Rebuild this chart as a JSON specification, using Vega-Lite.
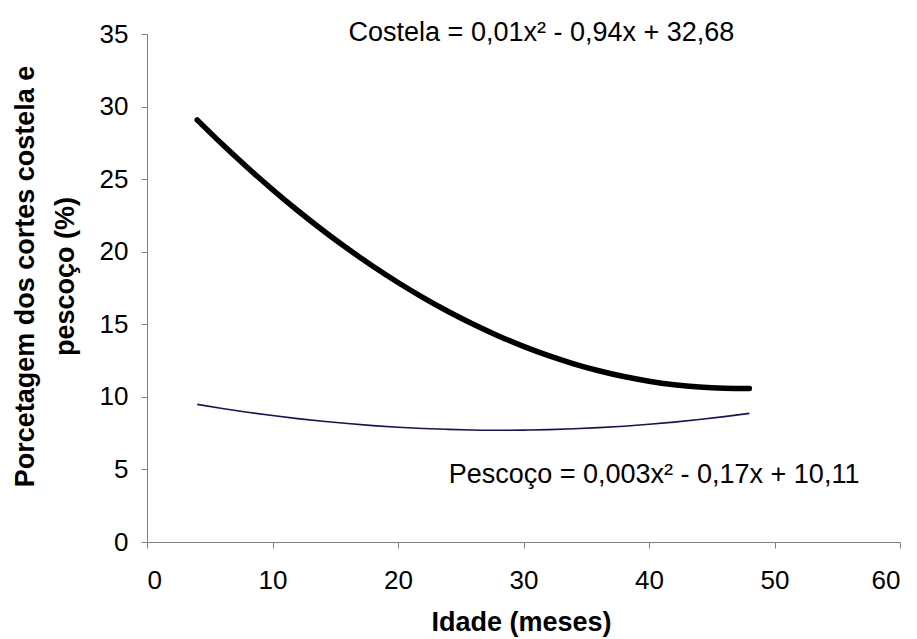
{
  "$schema": "https://vega.github.io/schema/vega-lite/v6.json",
  "width": 753,
  "height": 508,
  "autosize": "none",
  "padding": {"left": 147, "top": 34, "right": 17, "bottom": 97},
  "background": "white",
  "config": {
    "view": {"stroke": null},
    "font": "Liberation Sans",
    "axis": {
      "grid": false,
      "domainColor": "#808080",
      "tickColor": "#808080",
      "tickSize": 6,
      "labelFont": "Liberation Sans",
      "labelFontSize": 26,
      "labelColor": "black",
      "titleFont": "Liberation Sans",
      "titleFontSize": 27,
      "titleFontWeight": "bold",
      "titleColor": "black"
    }
  },
  "datasets": {
    "curves": [
      {"idade": 4, "valor": 29.08, "corte": "Costela"},
      {"idade": 6, "valor": 27.40, "corte": "Costela"},
      {"idade": 8, "valor": 25.80, "corte": "Costela"},
      {"idade": 10, "valor": 24.28, "corte": "Costela"},
      {"idade": 12, "valor": 22.84, "corte": "Costela"},
      {"idade": 14, "valor": 21.48, "corte": "Costela"},
      {"idade": 16, "valor": 20.20, "corte": "Costela"},
      {"idade": 18, "valor": 19.00, "corte": "Costela"},
      {"idade": 20, "valor": 17.88, "corte": "Costela"},
      {"idade": 22, "valor": 16.84, "corte": "Costela"},
      {"idade": 24, "valor": 15.88, "corte": "Costela"},
      {"idade": 26, "valor": 15.00, "corte": "Costela"},
      {"idade": 28, "valor": 14.20, "corte": "Costela"},
      {"idade": 30, "valor": 13.48, "corte": "Costela"},
      {"idade": 32, "valor": 12.84, "corte": "Costela"},
      {"idade": 34, "valor": 12.28, "corte": "Costela"},
      {"idade": 36, "valor": 11.80, "corte": "Costela"},
      {"idade": 38, "valor": 11.40, "corte": "Costela"},
      {"idade": 40, "valor": 11.08, "corte": "Costela"},
      {"idade": 42, "valor": 10.84, "corte": "Costela"},
      {"idade": 44, "valor": 10.68, "corte": "Costela"},
      {"idade": 46, "valor": 10.60, "corte": "Costela"},
      {"idade": 48, "valor": 10.58, "corte": "Costela"},
      {"idade": 4, "valor": 9.48, "corte": "Pescoço"},
      {"idade": 6, "valor": 9.20, "corte": "Pescoço"},
      {"idade": 8, "valor": 8.94, "corte": "Pescoço"},
      {"idade": 10, "valor": 8.71, "corte": "Pescoço"},
      {"idade": 12, "valor": 8.50, "corte": "Pescoço"},
      {"idade": 14, "valor": 8.32, "corte": "Pescoço"},
      {"idade": 16, "valor": 8.16, "corte": "Pescoço"},
      {"idade": 18, "valor": 8.02, "corte": "Pescoço"},
      {"idade": 20, "valor": 7.91, "corte": "Pescoço"},
      {"idade": 22, "valor": 7.82, "corte": "Pescoço"},
      {"idade": 24, "valor": 7.76, "corte": "Pescoço"},
      {"idade": 26, "valor": 7.72, "corte": "Pescoço"},
      {"idade": 28, "valor": 7.70, "corte": "Pescoço"},
      {"idade": 30, "valor": 7.71, "corte": "Pescoço"},
      {"idade": 32, "valor": 7.74, "corte": "Pescoço"},
      {"idade": 34, "valor": 7.80, "corte": "Pescoço"},
      {"idade": 36, "valor": 7.88, "corte": "Pescoço"},
      {"idade": 38, "valor": 7.98, "corte": "Pescoço"},
      {"idade": 40, "valor": 8.11, "corte": "Pescoço"},
      {"idade": 42, "valor": 8.26, "corte": "Pescoço"},
      {"idade": 44, "valor": 8.44, "corte": "Pescoço"},
      {"idade": 46, "valor": 8.64, "corte": "Pescoço"},
      {"idade": 48, "valor": 8.86, "corte": "Pescoço"}
    ],
    "labels": [
      {"idade": 31.43, "valor": 34.52, "texto": "Costela = 0,01x² - 0,94x + 32,68"},
      {"idade": 40.4, "valor": 4.07, "texto": "Pescoço = 0,003x² - 0,17x + 10,11"}
    ]
  },
  "encoding": {
    "x": {
      "field": "idade",
      "type": "quantitative",
      "scale": {"domain": [0, 60], "nice": false, "zero": false},
      "axis": {
        "title": "Idade (meses)",
        "values": [0, 10, 20, 30, 40, 50, 60],
        "labelPadding": 19,
        "titleX": 374,
        "titleY": 88,
        "titleAlign": "center",
        "titleBaseline": "alphabetic"
      }
    },
    "y": {
      "field": "valor",
      "type": "quantitative",
      "scale": {"domain": [0, 35], "nice": false, "zero": false},
      "axis": {
        "title": ["Porcetagem dos cortes costela e", "pescoço (%)"],
        "values": [0, 5, 10, 15, 20, 25, 30, 35],
        "labelPadding": 13,
        "titleX": -114,
        "titleY": 242,
        "titleAngle": -90,
        "titleAlign": "center",
        "titleBaseline": "alphabetic",
        "titleLineHeight": 40
      }
    }
  },
  "layer": [
    {
      "data": {"name": "curves"},
      "transform": [{"filter": "datum.corte === 'Costela'"}],
      "mark": {"type": "line", "color": "black", "strokeWidth": 5.5, "strokeCap": "round", "interpolate": "monotone"}
    },
    {
      "data": {"name": "curves"},
      "transform": [{"filter": "datum.corte === 'Pescoço'"}],
      "mark": {"type": "line", "color": "#14145a", "strokeWidth": 1.6, "interpolate": "monotone"}
    },
    {
      "data": {"name": "labels"},
      "mark": {"type": "text", "fontSize": 27, "font": "Liberation Sans", "color": "black", "align": "center", "baseline": "alphabetic"},
      "encoding": {"text": {"field": "texto"}}
    }
  ]
}
